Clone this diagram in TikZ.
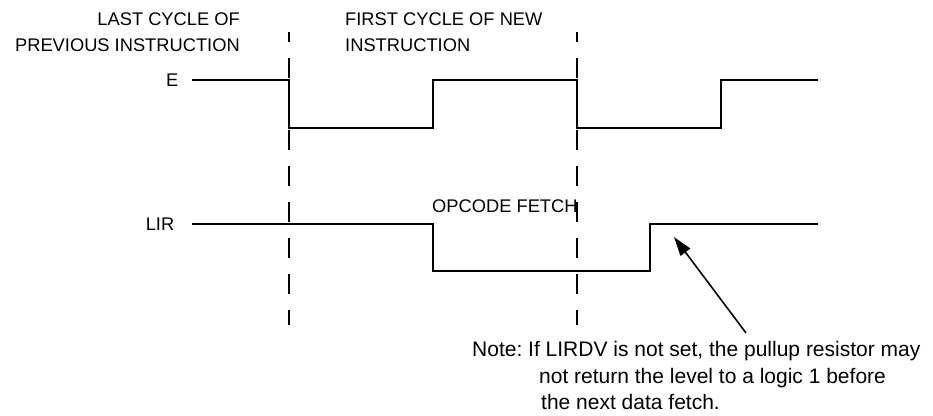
\documentclass[tikz,border=0pt]{standalone}
\usepackage{fontspec}
\setmainfont{Liberation Sans}
\usetikzlibrary{positioning, arrows.meta, calc}

\tikzset{
  wave/.style={line width=2.8pt, line join=miter},
  divider/.style={line width=2.3pt, dash pattern=on 20pt off 16pt, dash phase=10pt},
  lbl/.style={font=\fontsize{18.3}{26}\selectfont\frenchspacing, inner sep=0pt},
  notetext/.style={font=\fontsize{21}{26.5}\selectfont\frenchspacing, inner sep=0pt},
}

\begin{document}
\begin{tikzpicture}[x=1pt, y=-1pt]
  \useasboundingbox (0,0) rectangle (933,415);

  % cycle labels
  \node[lbl, align=right, anchor=base east] (lastcycle) at (240,51)
    {LAST CYCLE OF\\PREVIOUS INSTRUCTION};
  \node[lbl, align=left, anchor=base west] (firstcycle) at (345,51)
    {FIRST CYCLE OF NEW\\INSTRUCTION};

  % cycle boundaries
  \draw[divider] (289,32) -- (289,325);
  \draw[divider] (577,32) -- (577,325);

  % E
  \node[lbl, anchor=east] (elabel) at (178.5,80) {E};
  \draw[wave] (192,80) -- (289,80) -- (289,128) -- (433,128) -- (433,80)
    -- (577,80) -- (577,128) -- (721,128) -- (721,80) -- (818,80);

  % LIR
  \node[lbl, anchor=east] (lirlabel) at (174.5,224) {LIR};
  \node[lbl, anchor=base west] (fetch) at (432,212.5) {OPCODE FETCH};
  \draw[wave] (192,224) -- (433,224) -- (433,271) -- (650,271) -- (650,224)
    -- (818,224);

  % note
  \node[notetext, align=left, anchor=base west] (note) at (472,409.5)
    {Note: If LIRDV is not set, the pullup resistor may\\
     \hspace*{67pt}not return the level to a logic 1 before\\
     \hspace*{69pt}the next data fetch.};
  \coordinate (tail) at (746,333);
  \coordinate (tip) at (674,237);
  \draw[-{Triangle[length=19pt, width=12pt]}, line width=1.6pt] (tail) -- (tip);
\end{tikzpicture}
\end{document}
